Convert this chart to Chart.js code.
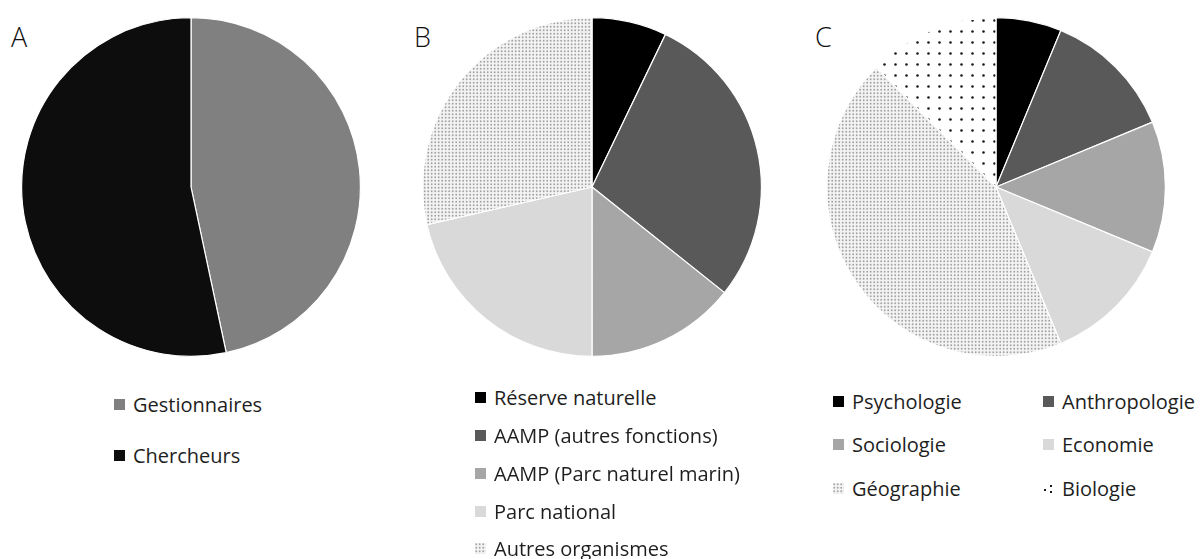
<!DOCTYPE html>
<html>
<head>
<meta charset="utf-8">
<script src="https://cdn.jsdelivr.net/npm/chart.js@4"></script>
<style>
  body { margin: 0; background: #fff; width: 1201px; height: 559px; position: relative; overflow: hidden;
         font-family: "Open Sans", "Noto Sans", sans-serif; color: #1e1e1e; }
  .pie { position: absolute; top: 15px; width: 344px; height: 344px; }
  .letter { position: absolute; top: 18px; font-size: 27px; font-weight: 300; color: #111; }
  .leg { position: absolute; font-size: 20px; }
  .item { position: absolute; white-space: nowrap; display: flex; align-items: center; }
  .item canvas { margin-right: 8px; }
</style>
</head>
<body>
<div class="letter" style="left:11px">A</div>
<div class="letter" style="left:414px">B</div>
<div class="letter" style="left:815px">C</div>
<div class="pie" style="left:19px"><canvas id="pieA" width="344" height="344"></canvas></div>
<div class="pie" style="left:420px"><canvas id="pieB" width="344" height="344"></canvas></div>
<div class="pie" style="left:824px"><canvas id="pieC" width="344" height="344"></canvas></div>
<div id="legA" class="leg"></div>
<div id="legB" class="leg"></div>
<div id="legC" class="leg"></div>
<script>
// données
const labelsA = ['Gestionnaires', 'Chercheurs'];
const valuesA = [7, 8];

const labelsB = ['Réserve naturelle', 'AAMP (autres fonctions)', 'AAMP (Parc naturel marin)', 'Parc national', 'Autres organismes'];
const valuesB = [1, 4, 2, 3, 4];

const labelsC = ['Psychologie', 'Anthropologie', 'Sociologie', 'Economie', 'Géographie', 'Biologie'];
const valuesC = [1, 2, 2, 2, 7, 2];

// couleurs / motifs
const colorsA = ['#808080', '#0d0d0d'];
const colorsB = ['#000000', '#595959', '#a6a6a6', '#d9d9d9', 'fineDots'];
const colorsC = ['#000000', '#595959', '#a6a6a6', '#d9d9d9', 'fineDots', 'bigDots'];

/**
 * motif en points (fins gris ou gros noirs)
 */
function makePattern(ctx, kind) {
    const tile = document.createElement('canvas');
    const t = tile.getContext('2d');
    if (kind === 'fineDots') {
        tile.width = 7; tile.height = 7;
        t.fillStyle = '#f3f3f3';
        t.fillRect(0, 0, 7, 7);
        t.fillStyle = '#a3a3a3';
        [[1.2, 1.2], [4.7, 1.2], [1.2, 4.7], [4.7, 4.7]].forEach(([x, y]) => {
            t.beginPath();
            t.arc(x, y, 0.95, 0, Math.PI * 2);
            t.fill();
        });
    } else {
        tile.width = 11; tile.height = 11;
        t.fillStyle = '#ffffff';
        t.fillRect(0, 0, 11, 11);
        t.fillStyle = '#1a1a1a';
        t.beginPath();
        t.arc(5.5, 5.5, 1.3, 0, Math.PI * 2);
        t.fill();
    }
    return ctx.createPattern(tile, 'repeat');
}

function resolveColors(ctx, list) {
    return list.map(c => (c === 'fineDots' || c === 'bigDots') ? makePattern(ctx, c) : c);
}

function drawPie(id, labels, values, colors) {
    const ctx = document.getElementById(id).getContext('2d');
    return new Chart(ctx, {
        type: 'pie',
        data: {
            labels: labels,
            datasets: [{
                data: values,
                backgroundColor: resolveColors(ctx, colors),
                borderColor: '#ffffff',
                borderWidth: 1.2
            }]
        },
        options: {
            responsive: false,
            animation: false,
            layout: { padding: 2 },
            plugins: {
                legend: { display: false },
                tooltip: { enabled: false }
            }
        }
    });
}

/**
 * légende HTML : positions [x, y] de chaque entrée
 */
function buildLegend(divId, labels, colors, positions) {
    const div = document.getElementById(divId);
    labels.forEach((label, i) => {
        const item = document.createElement('div');
        item.className = 'item';
        item.style.left = positions[i][0] + 'px';
        item.style.top = (positions[i][1] - 14) + 'px';
        item.style.height = '28px';
        const sw = document.createElement('canvas');
        sw.width = 11; sw.height = 11;
        const sctx = sw.getContext('2d');
        const c = colors[i];
        if (c === 'bigDots') {
            sctx.fillStyle = '#fff';
            sctx.fillRect(0, 0, 11, 11);
            sctx.fillStyle = '#1a1a1a';
            [[1, 6], [7, 2], [7, 8]].forEach(([x, y]) => sctx.fillRect(x, y, 2, 2));
        } else {
            sctx.fillStyle = (c === 'fineDots') ? makePattern(sctx, c) : c;
            sctx.fillRect(0, 0, 11, 11);
        }
        item.appendChild(sw);
        const span = document.createElement('span');
        span.textContent = label;
        item.appendChild(span);
        div.appendChild(item);
    });
}

drawPie('pieA', labelsA, valuesA, colorsA);
drawPie('pieB', labelsB, valuesB, colorsB);
drawPie('pieC', labelsC, valuesC, colorsC);

buildLegend('legA', labelsA, colorsA, [[114, 404], [114, 455]]);
buildLegend('legB', labelsB, colorsB, [[475, 397], [475, 435], [475, 473], [475, 511], [475, 548]]);
buildLegend('legC', labelsC, colorsC,
    [[833, 401], [1043, 401], [833, 444], [1043, 444], [833, 488], [1043, 488]]);
</script>
</body>
</html>
